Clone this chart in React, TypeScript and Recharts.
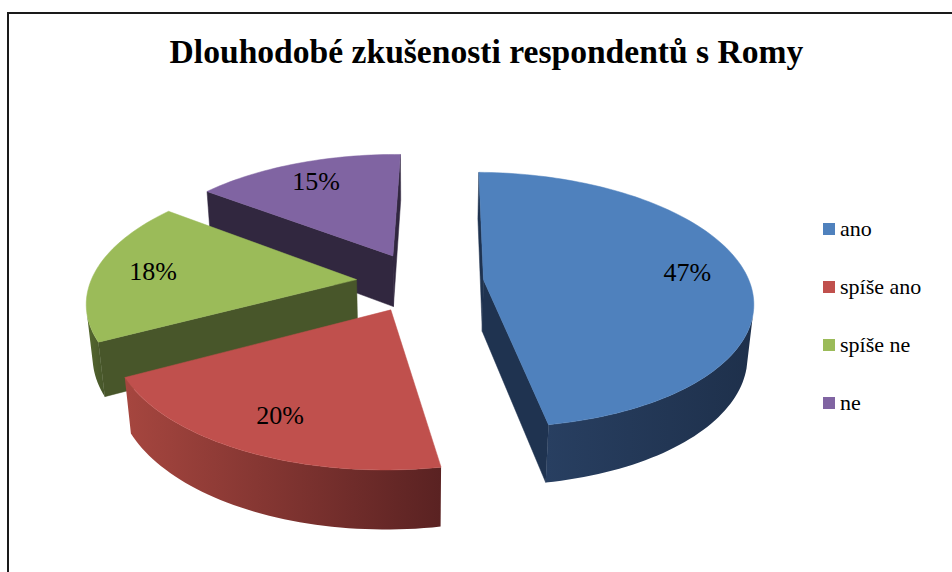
import React from 'react'
import { PieChart, Pie, Cell, Legend } from 'recharts'

const categories = ['ano', 'spíše ano', 'spíše ne', 'ne']
const shares = [47, 20, 18, 15]

const topColors = ['#4f81bd', '#c0504d', '#9bbb59', '#8064a2']
const cutColors = ['#1f3350', '#5c2523', '#48562a', '#31273f']
const wallLight = ['#283f61', '#a6463f', '#56692f', '#3a2e4c']
const wallDark = ['#1e304b', '#5a2222', '#46552a', '#31273f']

// back to front, so the nearer slices cover the farther ones
const drawOrder = [3, 2, 0, 1]

const data = categories.map((name, i) => ({ name, value: shares[i] }))

const WIDTH = 952
const HEIGHT = 572
const CX = 420
const CY = 282
const RADIUS = 266
const FIRST_SLICE = 1

// camera: distance in pie radii, elevation angle
const DIST = 5.6
const SIN_EL = 0.47
const COS_EL = Math.sqrt(1 - SIN_EL * SIN_EL)
const THICK = 0.225
const EXPLODE = 0.24
const RAD = Math.PI / 180
const FONT = '"Liberation Serif", "Times New Roman", serif'

// pinhole projection of (x, y, z) given in pie radii; z points to the viewer
const project = (cx: number, cy: number, r: number, x: number, y: number, z: number) => {
  const depth = DIST - y * SIN_EL - z * COS_EL
  const up = y * COS_EL - z * SIN_EL
  const f = r * DIST
  return [cx + (f * x) / depth, cy - (f * up) / depth]
}

const sliceGeom = (p: any) => {
  const m = p.midAngle * RAD
  const ox = EXPLODE * Math.cos(m)
  const oz = -EXPLODE * Math.sin(m)
  const pt = (angle: number, rr: number, y: number) =>
    project(p.cx, p.cy, p.outerRadius, ox + rr * Math.cos(angle * RAD), y, oz - rr * Math.sin(angle * RAD))
  return { ox, oz, pt }
}

const toPath = (pts: number[][]) =>
  pts.map((q, i) => `${i ? 'L' : 'M'}${q[0].toFixed(2)},${q[1].toFixed(2)}`).join(' ') + ' Z'

const Slice3D = (props: any, layer: number) => {
  const { startAngle, endAngle, index } = props
  if (index !== layer) return <g />
  const { ox, oz, pt } = sliceGeom(props)
  const camX = -ox
  const camZ = DIST * COS_EL - oz

  const faces: React.ReactNode[] = []

  const cutFace = (a: number, sign: number, key: string) => {
    const nx = sign * -Math.sin(a * RAD)
    const nz = sign * -Math.cos(a * RAD)
    if (camX * nx + camZ * nz <= 0) return
    faces.push(
      <path
        key={key}
        d={toPath([pt(a, 0, 0), pt(a, 1, 0), pt(a, 1, -THICK), pt(a, 0, -THICK)])}
        fill={cutColors[index]}
        stroke={cutColors[index]}
        strokeWidth={0.5}
      />
    )
  }
  // start edge faces against the sweep, end edge along it
  cutFace(startAngle, 1, 'start')
  cutFace(endAngle, -1, 'end')

  // outer wall: keep the samples whose normal looks at the camera
  const steps = Math.max(4, Math.ceil(Math.abs(startAngle - endAngle) / 1.5))
  const rim: number[] = []
  for (let i = 0; i <= steps; i++) {
    const a = startAngle + ((endAngle - startAngle) * i) / steps
    const nx = Math.cos(a * RAD)
    const nz = -Math.sin(a * RAD)
    if ((camX - nx) * nx + (camZ - nz) * nz > 0) rim.push(a)
  }
  if (rim.length > 1) {
    const upper = rim.map((a) => pt(a, 1, 0))
    const lower = rim.slice().reverse().map((a) => pt(a, 1, -THICK))
    faces.push(<path key="wall" d={toPath([...upper, ...lower])} fill={`url(#wall${index})`} />)
  }

  const arc: number[][] = []
  for (let i = 0; i <= steps; i++) {
    arc.push(pt(startAngle + ((endAngle - startAngle) * i) / steps, 1, 0))
  }
  const top = toPath([pt(0, 0, 0), ...arc])

  return (
    <g>
      <defs>
        <linearGradient id={`wall${index}`} x1="0" y1="0" x2="1" y2="0">
          <stop offset="0%" stopColor={wallLight[index]} />
          <stop offset="100%" stopColor={wallDark[index]} />
        </linearGradient>
      </defs>
      {faces}
      <path d={top} fill={topColors[index]} stroke={topColors[index]} strokeWidth={0.5} />
    </g>
  )
}

const renderLabel = (p: any) => {
  const { pt } = sliceGeom(p)
  const [x, y] = pt(p.midAngle, 0.78, 0)
  return (
    <text
      key={`lbl${p.index}`}
      x={x}
      y={y}
      textAnchor="middle"
      dominantBaseline="central"
      fontFamily={FONT}
      fontSize={26}
      fill="#000"
    >
      {`${Math.round(p.percent * 100)}%`}
    </text>
  )
}

const renderLegend = () => (
  <div style={{ fontFamily: FONT, fontSize: 22, color: '#000' }}>
    {categories.map((name, i) => (
      <div key={name} style={{ display: 'flex', alignItems: 'center', height: 58 }}>
        <span
          style={{
            display: 'inline-block',
            width: 12,
            height: 12,
            background: topColors[i],
            marginRight: 5,
          }}
        />
        <span>{name}</span>
      </div>
    ))}
  </div>
)

export default function App() {
  return (
    <div
      style={{
        position: 'fixed',
        left: 0,
        top: 0,
        width: WIDTH,
        height: HEIGHT,
        overflow: 'hidden',
        background: '#fff',
      }}
    >
      <div
        style={{
          position: 'absolute',
          left: 7,
          top: 12,
          width: WIDTH,
          height: HEIGHT,
          border: '2px solid #1a1a1a',
        }}
      />
      <div
        style={{
          position: 'absolute',
          left: 0,
          top: 35,
          width: 973,
          textAlign: 'center',
          fontFamily: FONT,
          fontWeight: 'bold',
          fontSize: 33.6,
          lineHeight: '33px',
          color: '#000',
        }}
      >
        Dlouhodobé zkušenosti respondentů s Romy
      </div>
      <div style={{ position: 'absolute', left: 0, top: 0 }}>
        <PieChart width={WIDTH} height={HEIGHT} margin={{ top: 0, right: 0, bottom: 0, left: 0 }}>
          {drawOrder.map((layer, k) => (
            <Pie
              key={layer}
              data={data}
              dataKey="value"
              nameKey="name"
              cx={CX}
              cy={CY}
              outerRadius={RADIUS}
              startAngle={90 - FIRST_SLICE}
              endAngle={-270 - FIRST_SLICE}
              stroke="none"
              isAnimationActive={false}
              legendType={k === 0 ? 'square' : 'none'}
              shape={(p: any) => Slice3D(p, layer)}
              activeShape={(p: any) => Slice3D(p, layer)}
              inactiveShape={(p: any) => Slice3D(p, layer)}
              label={k === drawOrder.length - 1 ? renderLabel : false}
              labelLine={false}
            >
              {data.map((d, i) => (
                <Cell key={d.name} fill={topColors[i]} />
              ))}
            </Pie>
          ))}
          <Legend
            layout="vertical"
            align="right"
            verticalAlign="top"
            content={renderLegend}
            wrapperStyle={{ position: 'absolute', left: 823, top: 200, width: 128 }}
          />
        </PieChart>
      </div>
    </div>
  )
}
